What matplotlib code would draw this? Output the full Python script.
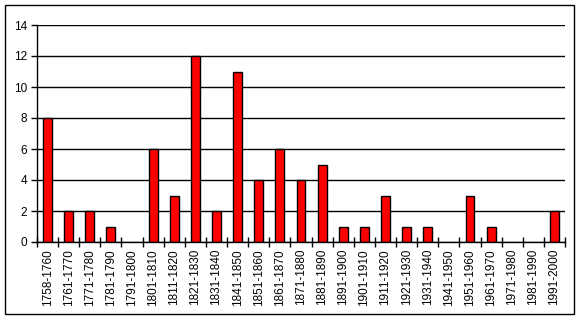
import matplotlib.pyplot as plt
from matplotlib.patches import Rectangle

# decade categories and counts
periods = ["1758-1760", "1761-1770", "1771-1780", "1781-1790", "1791-1800",
           "1801-1810", "1811-1820", "1821-1830", "1831-1840", "1841-1850",
           "1851-1860", "1861-1870", "1871-1880", "1881-1890", "1891-1900",
           "1901-1910", "1911-1920", "1921-1930", "1931-1940", "1941-1950",
           "1951-1960", "1961-1970", "1971-1980", "1981-1990", "1991-2000"]
counts = [8, 2, 2, 1, 0, 6, 3, 12, 2, 11, 4, 6, 4, 5, 1,
          1, 3, 1, 1, 0, 3, 1, 0, 0, 2]
yticks = [0, 2, 4, 6, 8, 10, 12, 14]

plt.rcParams['font.family'] = ['Liberation Sans', 'DejaVu Sans']

fig = plt.figure(figsize=(5.82, 3.2), dpi=100)
ax = fig.add_axes([37 / 582, 78 / 320, 528 / 582, 217 / 320])

x = range(len(periods))
# empty decades get no outline (Excel draws nothing there)
edge_w = [1.0 if c > 0 else 0 for c in counts]
ax.bar(x, counts, width=0.42, color="#ff0000", edgecolor="black",
       linewidth=edge_w, zorder=3)

ax.set_xlim(-0.5, len(periods) - 0.5)
ax.set_ylim(0, 14)
ax.set_yticks(yticks)
ax.set_yticklabels([str(v) for v in yticks], fontsize=8.5)
ax.yaxis.grid(True, color="black", linewidth=1.0, zorder=0)

# category labels between boundary ticks
ax.set_xticks(list(x))
ax.set_xticklabels(periods, rotation=90, fontsize=8.5)
ax.tick_params(axis="x", which="major", length=0, pad=5)
ax.set_xticks([i - 0.5 for i in range(len(periods) + 1)], minor=True)
ax.tick_params(axis="x", which="minor", direction="inout", length=7, width=1)
ax.tick_params(axis="y", direction="out", length=4, width=1, pad=3)

for side in ["top", "right"]:
    ax.spines[side].set_visible(False)
ax.spines["left"].set_linewidth(1.0)
ax.spines["bottom"].set_linewidth(1.0)
ax.spines["bottom"].set_zorder(4)

# outer chart border
fig.patches.append(Rectangle((5 / 582, 6 / 320), 569 / 582, 309 / 320,
                             transform=fig.transFigure, fill=False,
                             edgecolor="black", linewidth=1.0))

fig.savefig("out.png", dpi=100)
